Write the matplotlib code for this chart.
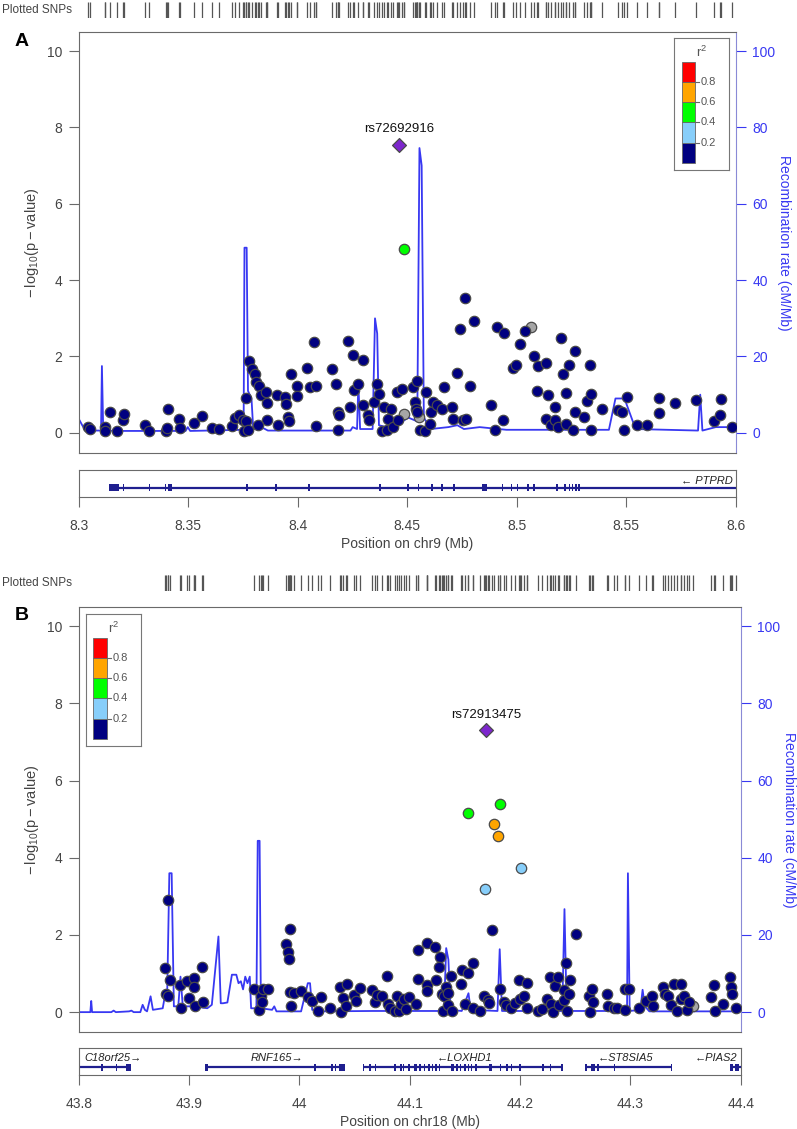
import numpy as np
import matplotlib
matplotlib.use('Agg')
import matplotlib.pyplot as plt
from matplotlib.patches import Rectangle

plt.rcParams['font.family'] = ['Liberation Sans', 'DejaVu Sans']

W, H = 797, 1129

#### PANEL A DATA (chr9) ####
a_navy_pos = [8.3041, 8.3051, 8.3122, 8.3122, 8.3142, 8.3173, 8.3203, 8.3209, 8.3305, 8.3319,
              8.3397, 8.3403, 8.3407, 8.3458, 8.3464, 8.3525, 8.3561, 8.3610, 8.3641, 8.3702,
              8.3712, 8.3732, 8.3748, 8.3753, 8.3763, 8.3763, 8.3773, 8.3777, 8.3793, 8.3807,
              8.3809, 8.3824, 8.3834, 8.3854, 8.3858, 8.3858, 8.3818, 8.3905, 8.3909, 8.3942,
              8.3946, 8.3956, 8.3958, 8.3970, 8.3997, 8.3997, 8.4041, 8.4054, 8.4074, 8.4084,
              8.4084, 8.4157, 8.4176, 8.4184, 8.4190, 8.4184, 8.4231, 8.4239, 8.4251, 8.4255,
              8.4277, 8.4298, 8.4298, 8.4322, 8.4326, 8.4349, 8.4363, 8.4373, 8.4387, 8.4393,
              8.4410, 8.4424, 8.4414, 8.4434, 8.4454, 8.4456, 8.4475, 8.4525, 8.4536, 8.4542,
              8.4546, 8.4546, 8.4558, 8.4580, 8.4586, 8.4603, 8.4607, 8.4617, 8.4637, 8.4658,
              8.4668, 8.4704, 8.4708, 8.4729, 8.4739, 8.4763, 8.4755, 8.4769, 8.4786, 8.4804,
              8.4881, 8.4902, 8.4908, 8.4938, 8.4944, 8.4983, 8.4997, 8.5014, 8.5040, 8.5079,
              8.5091, 8.5099, 8.5132, 8.5132, 8.5142, 8.5156, 8.5176, 8.5176, 8.5188, 8.5201,
              8.5211, 8.5223, 8.5227, 8.5241, 8.5258, 8.5264, 8.5268, 8.5308, 8.5319, 8.5333,
              8.5339, 8.5339, 8.5390, 8.5461, 8.5481, 8.5492, 8.5502, 8.5549, 8.5593, 8.5650,
              8.5650, 8.5725, 8.5817, 8.5902, 8.5929, 8.5935, 8.5984]
a_navy_logp = [0.16, 0.09, 0.16, 0.05, 0.55, 0.04, 0.33, 0.50, 0.20, 0.04,
               0.04, 0.13, 0.62, 0.37, 0.13, 0.26, 0.43, 0.14, 0.09, 0.17,
               0.39, 0.46, 0.33, 0.04, 0.90, 0.30, 0.07, 1.88, 1.68, 1.55,
               1.33, 1.24, 0.98, 1.07, 0.77, 0.33, 0.20, 0.98, 0.20, 0.94,
               0.75, 0.42, 0.31, 1.53, 1.24, 0.96, 1.70, 1.19, 2.37, 1.24,
               0.18, 1.66, 1.29, 0.55, 0.48, 0.07, 2.40, 0.68, 2.03, 1.13,
               1.27, 1.90, 0.72, 0.46, 0.33, 0.81, 1.27, 1.03, 0.04, 0.68,
               0.07, 0.63, 0.37, 0.16, 1.07, 0.33, 1.16, 1.20, 0.81, 0.63,
               1.37, 0.55, 0.07, 0.05, 1.07, 0.24, 0.55, 0.81, 0.72, 0.62,
               1.20, 0.68, 0.37, 1.57, 2.72, 3.53, 0.33, 0.37, 1.24, 2.94,
               0.72, 0.07, 2.77, 0.33, 2.61, 1.70, 1.77, 2.33, 2.68, 2.00,
               1.10, 1.74, 1.83, 0.37, 0.98, 0.20, 0.68, 0.33, 0.16, 2.48,
               1.53, 1.04, 0.24, 1.77, 0.07, 0.55, 2.14, 0.42, 0.84, 1.79,
               1.03, 0.07, 0.63, 0.59, 0.55, 0.07, 0.94, 0.20, 0.20, 0.90,
               0.52, 0.79, 0.87, 0.30, 0.48, 0.88, 0.16]
a_green_pos = [8.4487]
a_green_logp = [4.82]
a_gray_pos = [8.4485, 8.4556, 8.5064]
a_gray_logp = [0.50, 0.42, 2.77]
a_lead = ('rs72692916', 8.4464, 7.55)

a_rec_pos = [8.3000, 8.3016, 8.3031, 8.3102, 8.3106, 8.3112, 8.3203, 8.3488, 8.3498, 8.3509,
             8.3753, 8.3757, 8.3767, 8.3773, 8.3789, 8.3797, 8.3844, 8.3864, 8.4241, 8.4251,
             8.4271, 8.4277, 8.4285, 8.4342, 8.4353, 8.4363, 8.4371, 8.4404, 8.4465, 8.4505,
             8.4546, 8.4556, 8.4566, 8.4576, 8.4607, 8.4688, 8.4729, 8.4759, 8.4831, 8.4953,
             8.5421, 8.5451, 8.5492, 8.5543, 8.5828, 8.5838, 8.5848, 8.5909, 8.6000]
a_rec_rate = [3.7, 2.0, 0.6, 0.6, 17.5, 0.6, 0.5, 0.5, 1.5, 0.5,
              0.8, 48.5, 48.5, 11.0, 9.0, 1.0, 1.2, 0.6, 0.6, 1.5,
              1.0, 13.0, 1.0, 1.0, 30.0, 26.0, 2.0, 1.5, 2.5, 4.0,
              3.0, 74.6, 70.0, 4.0, 1.0, 1.5, 2.0, 1.0, 1.5, 0.8,
              0.8, 9.0, 9.0, 1.0, 0.6, 10.0, 0.6, 1.5, 1.5]

a_genes = [('\u2190 PTPRD', 8.3139, 8.6000, 8.5985, 'right')]
a_exons = [(8.3139, 8.3183), (8.3200, 8.3200), (8.3320, 8.3320), (8.3393, 8.3393), (8.3407, 8.3424),
           (8.3764, 8.3770), (8.3896, 8.3896), (8.4049, 8.4049), (8.4371, 8.4378), (8.4501, 8.4501),
           (8.4548, 8.4548), (8.4609, 8.4609), (8.4656, 8.4656), (8.4711, 8.4711), (8.4843, 8.4864),
           (8.4931, 8.4931), (8.4972, 8.4972), (8.5000, 8.5000), (8.5047, 8.5047), (8.5074, 8.5074),
           (8.5180, 8.5186), (8.5216, 8.5216), (8.5237, 8.5237), (8.5251, 8.5251), (8.5267, 8.5267),
           (8.5281, 8.5281)]
a_xticks = [8.3, 8.35, 8.4, 8.45, 8.5, 8.55, 8.6]
a_xticklabels = ['8.3', '8.35', '8.4', '8.45', '8.5', '8.55', '8.6']

#### PANEL B DATA (chr18) ####
b_navy_pos = [43.8781, 43.8789, 43.8809, 43.8813, 43.8829, 43.8931, 43.8922, 43.8983, 43.9003, 43.9044,
              43.9044, 43.9052, 43.9117, 43.9125, 43.9590, 43.9631, 43.9651, 43.9659, 43.9671, 43.9711,
              43.9881, 43.9894, 43.9902, 43.9914, 43.9914, 43.9926, 43.9954, 44.0015, 44.0076, 44.0116,
              44.0169, 44.0197, 44.0274, 44.0371, 44.0379, 44.0399, 44.0420, 44.0432, 44.0492, 44.0513,
              44.0549, 44.0654, 44.0683, 44.0703, 44.0751, 44.0796, 44.0804, 44.0824, 44.0865, 44.0885,
              44.0905, 44.0925, 44.0945, 44.0966, 44.0994, 44.1059, 44.1075, 44.1075, 44.1156, 44.1156,
              44.1156, 44.1229, 44.1241, 44.1277, 44.1261, 44.1289, 44.1297, 44.1310, 44.1330, 44.1342,
              44.1350, 44.1370, 44.1382, 44.1463, 44.1471, 44.1504, 44.1524, 44.1573, 44.1573, 44.1633,
              44.1674, 44.1706, 44.1722, 44.1743, 44.1815, 44.1856, 44.1876, 44.1916, 44.1957, 44.1989,
              44.1997, 44.2038, 44.2058, 44.2066, 44.2159, 44.2200, 44.2240, 44.2273, 44.2281, 44.2301,
              44.2313, 44.2341, 44.2353, 44.2394, 44.2402, 44.2414, 44.2422, 44.2443, 44.2451, 44.2503,
              44.2625, 44.2637, 44.2653, 44.2665, 44.2786, 44.2799, 44.2847, 44.2879, 44.2948, 44.2989,
              44.2948, 44.3078, 44.3138, 44.3191, 44.3203, 44.3292, 44.3312, 44.3341, 44.3365, 44.3393,
              44.3422, 44.3454, 44.3462, 44.3486, 44.3515, 44.3535, 44.3729, 44.3757, 44.3770, 44.3838,
              44.3899, 44.3911, 44.3919, 44.3960]
b_navy_logp = [1.14, 0.47, 2.90, 0.42, 0.84, 0.10, 0.71, 0.80, 0.36, 0.88,
               0.64, 0.16, 1.17, 0.26, 0.60, 0.06, 0.41, 0.25, 0.60, 0.60,
               1.76, 1.55, 1.37, 2.16, 0.51, 0.16, 0.49, 0.55, 0.38, 0.28,
               0.03, 0.38, 0.12, 0.64, 0.00, 0.36, 0.16, 0.73, 0.45, 0.29,
               0.62, 0.58, 0.25, 0.45, 0.41, 0.94, 0.21, 0.12, 0.03, 0.41,
               0.03, 0.21, 0.34, 0.08, 0.38, 0.21, 1.62, 0.86, 1.79, 0.71,
               0.55, 1.69, 0.84, 1.44, 1.18, 0.47, 0.02, 0.41, 0.64, 0.19,
               0.49, 0.93, 0.03, 0.73, 1.10, 0.22, 1.01, 1.27, 0.10, 0.03,
               0.42, 0.32, 0.23, 2.12, 0.61, 0.25, 0.19, 0.10, 0.23, 0.82,
               0.34, 0.42, 0.12, 0.75, 0.03, 0.08, 0.34, 0.90, 0.21, 0.00,
               0.68, 0.90, 0.19, 0.58, 0.32, 1.27, 0.02, 0.47, 0.84, 2.02,
               0.41, 0.00, 0.61, 0.25, 0.47, 0.16, 0.10, 0.12, 0.61, 0.61,
               0.06, 0.12, 0.29, 0.41, 0.15, 0.64, 0.47, 0.41, 0.19, 0.73,
               0.03, 0.73, 0.34, 0.41, 0.06, 0.25, 0.38, 0.71, 0.03, 0.21,
               0.90, 0.64, 0.47, 0.12]
b_lightblue_pos = [44.2006, 44.1682]
b_lightblue_logp = [3.73, 3.18]
b_green_pos = [44.1524, 44.1815]
b_green_logp = [5.15, 5.40]
b_orange_pos = [44.1767, 44.1803]
b_orange_logp = [4.88, 4.56]
b_gray_pos = [44.3567]
b_gray_logp = [0.16]
b_lead = ('rs72913475', 44.1694, 7.30)

b_rec_pos = [43.8000, 43.8105, 43.8113, 43.8121, 43.8295, 43.8316, 43.8336, 43.8457, 43.8477, 43.8498,
             43.8558, 43.8579, 43.8599, 43.8619, 43.8651, 43.8672, 43.8761, 43.8785, 43.8801, 43.8821,
             43.8842, 43.8862, 43.8902, 43.8922, 43.8943, 43.9044, 43.9165, 43.9206, 43.9266, 43.9287,
             43.9307, 43.9347, 43.9388, 43.9428, 43.9448, 43.9469, 43.9489, 43.9509, 43.9529, 43.9550,
             43.9562, 43.9610, 43.9622, 43.9639, 43.9651, 43.9752, 43.9772, 43.9792, 44.0015, 44.0076,
             44.0096, 44.0116, 44.0177, 44.0662, 44.1310, 44.1330, 44.1350, 44.1370, 44.1471, 44.1532,
             44.1552, 44.1795, 44.1815, 44.1836, 44.2382, 44.2402, 44.2422, 44.2969, 44.2977, 44.2993,
             44.3090, 44.3110, 44.3131, 44.3171, 44.4000]
b_rec_rate = [0.0, 0.0, 2.9, 0.0, 0.0, 0.4, 0.0, 0.2, 0.4, 0.0,
              0.0, 1.9, 0.6, 0.2, 4.1, 0.6, 1.0, 4.9, 4.0, 36.0,
              36.0, 1.5, 1.5, 9.2, 1.5, 1.5, 1.0, 1.9, 19.6, 2.3,
              2.3, 2.5, 9.7, 9.7, 7.5, 8.0, 5.9, 9.2, 7.5, 9.2,
              1.0, 1.0, 44.4, 44.4, 1.0, 0.6, 1.5, 0.2, 0.2, 7.5,
              7.5, 0.6, 0.2, 0.3, 0.3, 16.6, 13.6, 0.6, 0.3, 4.9,
              0.6, 0.3, 16.3, 0.3, 0.3, 26.7, 0.3, 0.3, 36.0, 0.3,
              0.6, 5.8, 1.5, 0.2, 0.2]

b_genes = [('C18orf25\u2192', 43.8000, 43.8477, 43.8053, 'left'),
           ('RNF165\u2192', 43.9145, 44.0411, 43.9792, 'center'),
           ('\u2190LOXHD1', 44.0573, 44.2370, 44.1492, 'center'),
           ('\u2190ST8SIA5', 44.2584, 44.3365, 44.2960, 'center'),
           ('\u2190PIAS2', 44.3899, 44.4000, 44.3968, 'right')]
b_exons = [(43.8202, 43.8202), (43.8336, 43.8336), (43.8429, 43.8477),
           (43.9145, 43.9173), (44.0136, 44.0136), (44.0290, 44.0290), (44.0318, 44.0318), (44.0359, 44.0411),
           (44.0573, 44.0589), (44.0634, 44.0634), (44.0682, 44.0682), (44.0856, 44.0873), (44.0913, 44.0913),
           (44.0937, 44.0937), (44.0986, 44.1006), (44.1039, 44.1039), (44.1055, 44.1055), (44.1087, 44.1087),
           (44.1128, 44.1128), (44.1168, 44.1168), (44.1200, 44.1200), (44.1229, 44.1229), (44.1261, 44.1261),
           (44.1370, 44.1399), (44.1423, 44.1423), (44.1451, 44.1451), (44.1492, 44.1492), (44.1524, 44.1524),
           (44.1552, 44.1552), (44.1593, 44.1593), (44.1722, 44.1743), (44.1815, 44.1815), (44.1876, 44.1876),
           (44.1916, 44.1916), (44.1989, 44.1989), (44.2200, 44.2200), (44.2269, 44.2269), (44.2370, 44.2370),
           (44.2584, 44.2604), (44.2645, 44.2645), (44.2665, 44.2665), (44.2697, 44.2697), (44.2847, 44.2847),
           (44.3365, 44.3365), (44.3899, 44.3930), (44.3950, 44.3980)]
b_xticks = [43.8, 43.9, 44.0, 44.1, 44.2, 44.3, 44.4]
b_xticklabels = ['43.8', '43.9', '44', '44.1', '44.2', '44.3', '44.4']

#### STYLE ####
ld_colors = ['#000080', '#87CEFA', '#00FF00', '#FFA500', '#FF0000']
rec_color = '#3838f2'
gray_txt = '#444444'
frame_col = '#6a6a6a'
gene_col = '#1f1f8f'


def fax(fig, l, t, r, b):
    # add axes from pixel box (left, top, right, bottom)
    return fig.add_axes([l / W, 1 - b / H, (r - l) / W, (b - t) / H])


def draw_panel(fig, letter, left, right, strip_tb, main_tb, gene_tb, legend_lt,
               xlim, xticks, xticklabels, chrom, groups, lead, rec_pos, rec_rate,
               genes, exons, gene_line_y, label_y):
    ylim = (-0.52, 10.5)

    # plotted SNPs strip
    all_pos = []
    for pos, logp, col in groups:
        all_pos += list(pos)
    all_pos.append(lead[1])
    axs = fax(fig, left, strip_tb[0], right, strip_tb[1])
    axs.vlines(all_pos, 0, 1, color='#555555', lw=0.9)
    axs.set_xlim(xlim)
    axs.set_ylim(0, 1)
    axs.axis('off')
    fig.text(2 / W, 1 - (strip_tb[0] + strip_tb[1]) / 2 / H, 'Plotted SNPs',
             fontsize=8.5, color=gray_txt, va='center', ha='left')

    # main scatter
    ax = fax(fig, left, main_tb[0], right, main_tb[1])
    ax2 = ax.twinx()
    ax2.plot(rec_pos, rec_rate, color=rec_color, lw=1.3)
    ax2.set_ylim(ylim[0] * 10, ylim[1] * 10)
    ax2.set_yticks([0, 20, 40, 60, 80, 100])
    ax2.tick_params(axis='y', colors=rec_color, labelsize=10, length=7, pad=5)
    ax2.set_ylabel('Recombination rate (cM/Mb)', color=rec_color, fontsize=10,
                   rotation=270, labelpad=11)
    for s in ['left', 'top', 'bottom']:
        ax2.spines[s].set_visible(False)
    ax2.spines['right'].set_color('#8a8ad6')

    ax.set_zorder(ax2.get_zorder() + 1)
    ax.patch.set_visible(False)
    for pos, logp, col in groups:
        ax.scatter(pos, logp, s=56, c=col, edgecolors='#4a4a4a', linewidths=0.9, zorder=3)
    ax.scatter([lead[1]], [lead[2]], s=50, marker='D', c='#7D26CD',
               edgecolors='#4a4a4a', linewidths=0.9, zorder=4)
    ax.annotate(lead[0], (lead[1], lead[2]), xytext=(0, 7), textcoords='offset points',
                ha='center', va='bottom', fontsize=9.5, color='#111111')
    ax.set_xlim(xlim)
    ax.set_ylim(ylim)
    ax.set_xticks([])
    ax.set_yticks([0, 2, 4, 6, 8, 10])
    ax.tick_params(axis='y', colors=frame_col, labelcolor=gray_txt, labelsize=10, length=7, pad=5)
    ax.set_ylabel(r'$\mathregular{-\,log_{10}(p - value)}$', fontsize=10.5, color=gray_txt, labelpad=4)
    for s in ['left', 'top', 'bottom']:
        ax.spines[s].set_color(frame_col)
    ax.spines['right'].set_visible(False)

    fig.text(22 / W, 1 - (main_tb[0] + 9) / H, letter, fontsize=14, fontweight='bold',
             ha='center', va='center', color='black')

    # legend
    ll, lt = legend_lt
    axl = fax(fig, ll, lt, ll + 55, lt + 132)
    axl.set_xlim(0, 55)
    axl.set_ylim(0, 132)
    axl.set_xticks([])
    axl.set_yticks([])
    for s in axl.spines.values():
        s.set_color('#777777')
    seg = 20.26
    for i, col in enumerate(ld_colors):
        axl.add_patch(Rectangle((7.5, 7 + i * seg), 13.5, seg, facecolor=col,
                                edgecolor='#666666', lw=0.6))
    for i, lab in enumerate(['0.2', '0.4', '0.6', '0.8']):
        yy = 7 + (i + 1) * seg
        axl.plot([21, 25], [yy, yy], color='#666666', lw=0.8)
        axl.text(26.5, yy, lab, fontsize=8, color='#555555', va='center', ha='left')
    axl.text(27.5, 118, r'$\mathregular{r^2}$', fontsize=9.5, color='#555555', ha='center', va='center')

    # gene track
    axg = fax(fig, left, gene_tb[0], right, gene_tb[1])
    axg.set_xlim(xlim)
    axg.set_ylim(0, 1)
    min_w = (xlim[1] - xlim[0]) / (right - left) * 1.6
    for name, start, end, lx, ha in genes:
        axg.plot([start, end], [gene_line_y, gene_line_y], color=gene_col, lw=1.6, solid_capstyle='butt')
        axg.text(lx, label_y, name, fontsize=8, style='italic', color='#222222', ha=ha, va='center')
    for start, end in exons:
        w = max(end - start, min_w)
        axg.add_patch(Rectangle((start, gene_line_y - 0.13), w, 0.26, facecolor=gene_col,
                                edgecolor='none'))
    axg.set_yticks([])
    axg.set_xticks(xticks)
    axg.set_xticklabels(xticklabels)
    axg.tick_params(axis='x', colors=frame_col, labelcolor=gray_txt, labelsize=10, length=7, pad=9)
    axg.set_xlabel('Position on %s (Mb)' % chrom, fontsize=10, color=gray_txt, labelpad=3)
    for s in axg.spines.values():
        s.set_color(frame_col)


fig = plt.figure(figsize=(W / 100, H / 100), dpi=100)

a_groups = [(a_gray_pos, a_gray_logp, '#A6A6A6'),
            (a_navy_pos, a_navy_logp, ld_colors[0]),
            (a_green_pos, a_green_logp, ld_colors[2])]
draw_panel(fig, 'A', 78.7, 735.7, (2, 18), (32, 452.7), (470, 496.7), (674, 38),
           (8.3, 8.6), a_xticks, a_xticklabels, 'chr9', a_groups, a_lead,
           a_rec_pos, a_rec_rate, a_genes, a_exons, 0.33, 0.6)

b_groups = [(b_gray_pos, b_gray_logp, '#A6A6A6'),
            (b_navy_pos, b_navy_logp, ld_colors[0]),
            (b_lightblue_pos, b_lightblue_logp, ld_colors[1]),
            (b_green_pos, b_green_logp, ld_colors[2]),
            (b_orange_pos, b_orange_logp, ld_colors[3])]
draw_panel(fig, 'B', 78.75, 740.8, (575, 591), (607, 1032.2), (1048.3, 1075), (85.7, 614),
           (43.8, 44.4), b_xticks, b_xticklabels, 'chr18', b_groups, b_lead,
           b_rec_pos, b_rec_rate, b_genes, b_exons, 0.29, 0.64)

fig.savefig('out.png', dpi=100)
